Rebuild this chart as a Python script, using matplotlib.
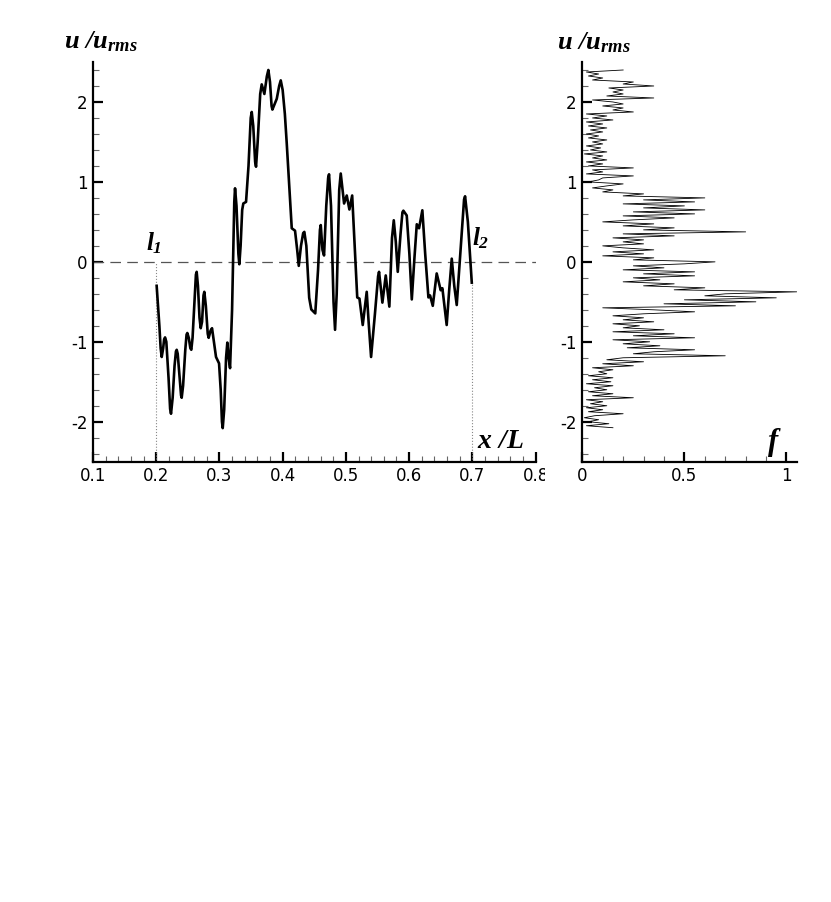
import numpy as np
import matplotlib
matplotlib.use("Agg")
import matplotlib.pyplot as plt
from matplotlib.ticker import MultipleLocator, FixedLocator
from matplotlib.transforms import Bbox

plt.rcParams['font.family'] = ['DejaVu Sans']
plt.rcParams['axes.unicode_minus'] = False
plt.rcParams['mathtext.fontset'] = 'custom'
plt.rcParams['mathtext.it'] = 'Liberation Serif:bold:italic'
plt.rcParams['mathtext.rm'] = 'Liberation Serif:bold:italic'
plt.rcParams['mathtext.bf'] = 'Liberation Serif:bold:italic'

# velocity signal u/u_rms along x/L
x_pos = [0.2007, 0.2050, 0.2070, 0.2087, 0.2110, 0.2125, 0.2140, 0.2160, 0.2195, 0.2220,
         0.2234, 0.2260, 0.2290, 0.2312, 0.2324, 0.2340, 0.2370, 0.2393, 0.2403, 0.2425,
         0.2460, 0.2480, 0.2492, 0.2515, 0.2540, 0.2555, 0.2575, 0.2605, 0.2628, 0.2640,
         0.2660, 0.2685, 0.2704, 0.2725, 0.2748, 0.2761, 0.2785, 0.2815, 0.2830, 0.2860,
         0.2883, 0.2946, 0.2994, 0.3020, 0.3040, 0.3052, 0.3075, 0.3105, 0.3125, 0.3145,
         0.3168, 0.3200, 0.3235, 0.3247, 0.3270, 0.3300, 0.3315, 0.3335, 0.3360, 0.3378,
         0.3421, 0.3460, 0.3495, 0.3511, 0.3535, 0.3565, 0.3579, 0.3605, 0.3645, 0.3669,
         0.3711, 0.3750, 0.3774, 0.3800, 0.3825, 0.3838, 0.3907, 0.3945, 0.3970, 0.4000,
         0.4035, 0.4065, 0.4105, 0.4144, 0.4196, 0.4230, 0.4255, 0.4290, 0.4325, 0.4343,
         0.4375, 0.4420, 0.4453, 0.4516, 0.4560, 0.4590, 0.4603, 0.4630, 0.4655, 0.4690,
         0.4720, 0.4734, 0.4765, 0.4805, 0.4829, 0.4855, 0.4895, 0.4919, 0.4972, 0.5014,
         0.5056, 0.5100, 0.5140, 0.5180, 0.5215, 0.5267, 0.5330, 0.5360, 0.5399, 0.5460,
         0.5510, 0.5525, 0.5578, 0.5631, 0.5688, 0.5730, 0.5758, 0.5790, 0.5821, 0.5865,
         0.5895, 0.5910, 0.5963, 0.6005, 0.6043, 0.6085, 0.6122, 0.6158, 0.6210, 0.6255,
         0.6306, 0.6332, 0.6375, 0.6437, 0.6500, 0.6527, 0.6595, 0.6635, 0.6675, 0.6715,
         0.6754, 0.6820, 0.6870, 0.6886, 0.6930, 0.6992]
u_sig = [-0.30, -0.80, -1.08, -1.19, -1.08, -0.97, -0.945, -1.00, -1.45, -1.84,
         -1.90, -1.70, -1.30, -1.12, -1.10, -1.15, -1.45, -1.67, -1.70, -1.55,
         -1.10, -0.91, -0.89, -0.95, -1.08, -1.10, -0.95, -0.50, -0.16, -0.125,
         -0.30, -0.70, -0.83, -0.75, -0.42, -0.375, -0.55, -0.90, -0.95, -0.86,
         -0.83, -1.19, -1.27, -1.60, -2.00, -2.08, -1.85, -1.20, -1.01, -1.20,
         -1.33, -0.60, 0.75, 0.92, 0.70, 0.10, -0.03, 0.20, 0.65, 0.73,
         0.75, 1.20, 1.80, 1.875, 1.70, 1.25, 1.19, 1.50, 2.10, 2.22,
         2.10, 2.32, 2.40, 2.25, 1.95, 1.905, 2.04, 2.20, 2.27, 2.15,
         1.85, 1.48, 0.95, 0.42, 0.39, 0.15, -0.05, 0.20, 0.36, 0.375,
         0.20, -0.45, -0.595, -0.645, -0.10, 0.40, 0.46, 0.15, 0.08, 0.70,
         1.05, 1.095, 0.70, -0.50, -0.85, -0.40, 0.90, 1.105, 0.73, 0.83,
         0.655, 0.83, 0.20, -0.445, -0.46, -0.79, -0.375, -0.75, -1.19, -0.65,
         -0.18, -0.125, -0.51, -0.17, -0.56, 0.30, 0.52, 0.25, -0.125, 0.35,
         0.62, 0.64, 0.58, 0.10, -0.47, 0.05, 0.47, 0.42, 0.645, 0.10,
         -0.445, -0.42, -0.55, -0.145, -0.355, -0.33, -0.79, -0.35, 0.04, -0.30,
         -0.54, 0.20, 0.78, 0.82, 0.50, -0.26]

# probability density f of u/u_rms (bins from -2.075 to 2.4)
f_pdf = [0.15, 0.02, 0.13, 0.03, 0.08, 0.01, 0.06,
         0.20, 0.03, 0.10, 0.02, 0.12, 0.04, 0.10, 0.02,
         0.25, 0.05, 0.15, 0.03, 0.12, 0.06, 0.15, 0.02, 0.14, 0.05, 0.15, 0.03, 0.12, 0.08, 0.15, 0.05,
         0.25, 0.10, 0.30, 0.12, 0.20,
         0.70,
         0.25, 0.35, 0.55, 0.22, 0.38, 0.20, 0.33, 0.15, 0.55,
         0.25, 0.45, 0.15, 0.40, 0.20, 0.28, 0.15, 0.35, 0.20, 0.30, 0.15,
         0.30, 0.55, 0.35, 0.10, 0.75, 0.40, 0.85, 0.50, 0.95, 0.60, 0.70, 1.05, 0.45,
         0.60, 0.30, 0.45, 0.20, 0.38, 0.25, 0.55, 0.30, 0.55, 0.20, 0.40, 0.25, 0.50,
         0.65, 0.25, 0.35, 0.10, 0.30, 0.15, 0.35, 0.20, 0.10, 0.30, 0.20, 0.30, 0.15,
         0.45, 0.20, 0.80, 0.30, 0.45, 0.20, 0.35, 0.10, 0.25, 0.45, 0.20,
         0.55, 0.25, 0.60, 0.30, 0.50, 0.20, 0.55, 0.30, 0.60, 0.20, 0.30, 0.10,
         0.15, 0.05, 0.12, 0.20, 0.03, 0.08, 0.10, 0.25, 0.02, 0.10, 0.05,
         0.25, 0.03, 0.10, 0.02, 0.12, 0.05, 0.10, 0.01, 0.12, 0.04, 0.09, 0.02, 0.10, 0.05,
         0.12, 0.03, 0.08, 0.02, 0.10, 0.04, 0.12, 0.03, 0.10, 0.02, 0.15, 0.05, 0.12, 0.02,
         0.25, 0.15, 0.20, 0.10, 0.20, 0.15, 0.05, 0.35, 0.12, 0.20, 0.15,
         0.20, 0.13, 0.35, 0.20, 0.25, 0.05, 0.10, 0.03, 0.08, 0.02, 0.20]
u_bins = np.linspace(-2.075, 2.4, len(f_pdf))

x_l1, x_l2 = 0.2, 0.7

W, H = 831, 902
TICK_FS = 12
fig = plt.figure(figsize=(W / 100, H / 100), dpi=100)


def px_axes(x0, y0, x1, y1):
    return fig.add_axes([x0 / W, 1 - y1 / H, (x1 - x0) / W, (y1 - y0) / H])


def style_axes(ax):
    for s in ['top', 'right']:
        ax.spines[s].set_visible(False)
    for s in ['left', 'bottom']:
        ax.spines[s].set_linewidth(1.6)
    ax.tick_params(which='major', direction='in', length=7, width=1.6, labelsize=TICK_FS, pad=4)
    ax.tick_params(which='minor', direction='in', length=4.5, width=0.8, color='#666666')
    ax.tick_params(top=False, right=False)
    ax.set_facecolor('none')


ax1 = px_axes(93, 62, 535.5, 461.7)
ax2 = px_axes(582.3, 62, 796.7, 461.7)

# ---- left panel ----
ax1.axhline(0, color='#555555', lw=0.9, dashes=(8.5, 5))
ax1.plot([x_l1, x_l1], [-2.5, 0], color='#888888', lw=0.8, ls=':')
ax1.plot([x_l2, x_l2], [-2.5, u_sig[-1]], color='#888888', lw=0.8, ls=':')
ax1.plot(x_pos, u_sig, color='black', lw=1.9, solid_joinstyle='round')
ax1.set_xlim(0.1, 0.8)
ax1.set_ylim(-2.5, 2.5)
ax1.xaxis.set_major_locator(FixedLocator([0.1, 0.2, 0.3, 0.4, 0.5, 0.6, 0.7, 0.8]))
ax1.set_xticklabels(['0.1', '0.2', '0.3', '0.4', '0.5', '0.6', '0.7', ''])
ax1.xaxis.set_minor_locator(MultipleLocator(0.02))
ax1.yaxis.set_major_locator(MultipleLocator(1))
ax1.yaxis.set_minor_locator(MultipleLocator(0.2))
style_axes(ax1)

# last tick label is cut off in the original
t = fig.text(535.5 / W, 1 - (461.7 + 4 * 100 / 72) / H, '0.8', ha='center', va='top',
             fontsize=TICK_FS)
t.set_clip_box(Bbox([[0, 0], [545, H]]))
t.set_clip_on(True)

# ---- right panel ----
ax2.plot(f_pdf, u_bins, color='black', lw=0.6)
ax2.set_xlim(0, 1.05)
ax2.set_ylim(-2.5, 2.5)
ax2.xaxis.set_major_locator(FixedLocator([0, 0.5, 1]))
ax2.set_xticklabels(['0', '0.5', '1'])
ax2.xaxis.set_minor_locator(MultipleLocator(0.1))
ax2.yaxis.set_major_locator(MultipleLocator(1))
ax2.yaxis.set_minor_locator(MultipleLocator(0.2))
style_axes(ax2)

# ---- labels ----
fig.text(64 / W, 1 - 48 / H, r'$u\ /u_{rms}$', fontsize=19, va='baseline')
fig.text(557 / W, 1 - 49 / H, r'$u\ /u_{rms}$', fontsize=19, va='baseline')
fig.text(477 / W, 1 - 448 / H, r'$x\ /L$', fontsize=20, va='baseline')
fig.text(767 / W, 1 - 450 / H, r'$f$', fontsize=22, va='baseline')
fig.text(146 / W, 1 - 250 / H, r'$l_1$', fontsize=18, va='baseline')
fig.text(472 / W, 1 - 245 / H, r'$l_2$', fontsize=18, va='baseline')

fig.savefig('out.png', dpi=100)
